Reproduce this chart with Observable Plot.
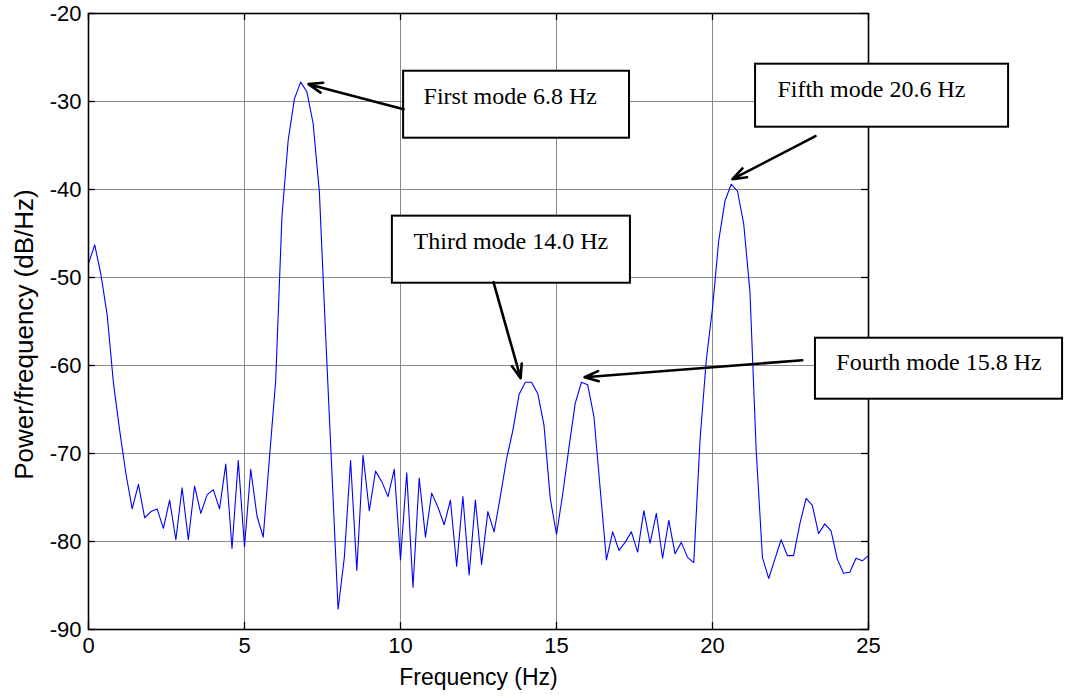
<!DOCTYPE html>
<html>
<head>
<meta charset="utf-8">
<script src="https://cdn.jsdelivr.net/npm/d3@7"></script>
<script src="https://cdn.jsdelivr.net/npm/@observablehq/plot@0.6"></script>
<style>
html, body { margin: 0; padding: 0; background: #fff; overflow: hidden; }
#chart svg { display: block; }
</style>
</head>
<body>
<div id="chart"></div>
<script>
// ---- Data ----
const frequencies = [
  0.0, 0.2, 0.4, 0.6, 0.8, 1.0, 1.2, 1.4, 1.6, 1.8,
  2.0, 2.2, 2.4, 2.6, 2.8, 3.0, 3.2, 3.4, 3.6, 3.8,
  4.0, 4.2, 4.4, 4.6, 4.8, 5.0, 5.2, 5.4, 5.6, 5.8,
  6.0, 6.2, 6.4, 6.6, 6.8, 7.0, 7.2, 7.4, 7.6, 7.8,
  8.0, 8.2, 8.4, 8.6, 8.8, 9.0, 9.2, 9.4, 9.6, 9.8,
  10.0, 10.2, 10.4, 10.6, 10.8, 11.0, 11.2, 11.4, 11.6, 11.8,
  12.0, 12.2, 12.4, 12.6, 12.8, 13.0, 13.2, 13.4, 13.6, 13.8,
  14.0, 14.2, 14.4, 14.6, 14.8, 15.0, 15.2, 15.4, 15.6, 15.8,
  16.0, 16.2, 16.4, 16.6, 16.8, 17.0, 17.2, 17.4, 17.6, 17.8,
  18.0, 18.2, 18.4, 18.6, 18.8, 19.0, 19.2, 19.4, 19.6, 19.8,
  20.0, 20.2, 20.4, 20.6, 20.8, 21.0, 21.2, 21.4, 21.6, 21.8,
  22.0, 22.2, 22.4, 22.6, 22.8, 23.0, 23.2, 23.4, 23.6, 23.8,
  24.0, 24.2, 24.4, 24.6, 24.8, 25.0
];
const psdDb = [
  -48.4, -46.3, -49.7, -54.3, -62.0, -67.4, -72.3, -76.3, -73.5, -77.3,
  -76.6, -76.3, -78.5, -75.3, -79.8, -73.9, -79.8, -73.7, -76.8, -74.7,
  -74.1, -76.3, -71.2, -80.8, -70.8, -80.6, -71.8, -77.1, -79.5, -70.5,
  -61.7, -43.1, -34.4, -29.7, -27.8, -28.9, -32.5, -40.3, -56.5, -72.0,
  -87.7, -81.8, -70.8, -83.3, -70.2, -76.5, -72.0, -73.2, -74.9, -71.8,
  -82.1, -72.2, -85.2, -72.8, -79.5, -74.5, -76.1, -78.1, -75.3, -82.8,
  -74.9, -83.8, -75.3, -82.6, -76.6, -78.9, -74.9, -70.6, -67.4, -63.3,
  -61.9, -61.9, -63.2, -66.8, -75.1, -79.2, -74.6, -69.3, -64.3, -61.9,
  -62.2, -65.8, -74.0, -82.1, -78.9, -81.0, -80.1, -78.9, -81.2, -76.5,
  -80.2, -76.8, -81.9, -77.6, -81.4, -80.1, -81.8, -82.4, -68.5, -59.4,
  -53.5, -45.8, -41.3, -39.4, -40.2, -43.9, -51.6, -69.6, -81.8, -84.2,
  -82.0, -79.8, -81.6, -81.6, -78.0, -75.1, -75.9, -79.1, -78.0, -78.8,
  -82.0, -83.6, -83.5, -81.9, -82.2, -81.6
];
const xTicks = [0, 5, 10, 15, 20, 25];
const yTicks = [-90, -80, -70, -60, -50, -40, -30, -20];
const xLabel = "Frequency (Hz)";
const yLabel = "Power/frequency (dB/Hz)";

// Annotations (data units)
const annoText   = ["First mode 6.8 Hz", "Fifth mode 20.6 Hz", "Third mode 14.0 Hz", "Fourth mode 15.8 Hz"];
const annoTextX  = [10.74, 22.08, 10.42, 23.97];
const annoTextY  = [-29.4, -28.6, -45.9, -59.6];
const boxX1      = [10.10, 21.38, 9.74, 23.30];
const boxX2      = [17.34, 29.49, 17.37, 31.22];
const boxY1      = [-26.56, -25.76, -43.03, -56.90];
const boxY2      = [-34.17, -32.92, -50.65, -63.83];
const arrowTailX = [10.10, 23.30, 12.98, 22.88];
const arrowTailY = [-30.88, -33.94, -50.53, -59.40];
const arrowTipX  = [7.05, 20.64, 13.85, 15.90];
const arrowTipY  = [-28.03, -38.83, -61.44, -61.33];

// ---- Build tables ----
const series = frequencies.map((f, i) => ({f, p: psdDb[i]}));
const annos = annoText.map((t, i) => ({
  t, tx: annoTextX[i], ty: annoTextY[i],
  x1: boxX1[i], x2: boxX2[i], y1: boxY1[i], y2: boxY2[i],
  ax1: arrowTailX[i], ay1: arrowTailY[i], ax2: arrowTipX[i], ay2: arrowTipY[i]
}));

const W = 1069, H = 698, mL = 88, mR = 201, mT = 13, mB = 69;
const frameH = H - mT - mB, frameW = W - mL - mR, tick = 7;

const sans = "'Liberation Sans', Arial, Helvetica, sans-serif";
const serif = "'Liberation Serif', 'Times New Roman', serif";
const fmt = d => String(d);

const chart = Plot.plot({
  width: W,
  height: H,
  marginLeft: mL,
  marginRight: mR,
  marginTop: mT,
  marginBottom: mB,
  x: {domain: [0, 25], label: null},
  y: {domain: [-90, -20], label: null},
  style: {fontFamily: sans, background: "white", color: "black", overflow: "visible"},
  marks: [
    Plot.gridX(xTicks, {stroke: "#8a8a8a", strokeOpacity: 1, strokeWidth: 1}),
    Plot.gridY(yTicks, {stroke: "#8a8a8a", strokeOpacity: 1, strokeWidth: 1}),
    Plot.line(series, {x: "f", y: "p", stroke: "#0000ff", strokeWidth: 1.1}),
    // inward ticks on all four sides
    Plot.ruleX(xTicks, {x: d => d, insetTop: frameH - tick, stroke: "black", strokeWidth: 1.3}),
    Plot.ruleX(xTicks, {x: d => d, insetBottom: frameH - tick, stroke: "black", strokeWidth: 1.3}),
    Plot.ruleY(yTicks, {y: d => d, insetRight: frameW - tick, stroke: "black", strokeWidth: 1.3}),
    Plot.ruleY(yTicks, {y: d => d, insetLeft: frameW - tick, stroke: "black", strokeWidth: 1.3}),
    Plot.frame({stroke: "black", strokeWidth: 1.6}),
    // tick labels
    Plot.axisX(xTicks, {anchor: "bottom", tickSize: 0, tickPadding: 8, tickFormat: fmt, label: null, fontSize: 22}),
    Plot.axisY(yTicks, {anchor: "left", tickSize: 0, tickPadding: 7, tickFormat: fmt, label: null, fontSize: 22}),
    // axis titles
    Plot.text([xLabel], {text: d => d, frameAnchor: "bottom", textAnchor: "middle", lineAnchor: "middle", dy: 48, fontSize: 23, fill: "black"}),
    Plot.text([yLabel], {text: d => d, frameAnchor: "left", textAnchor: "middle", lineAnchor: "middle", rotate: -90, dx: -64, dy: 13, fontSize: 26, fill: "black"}),
    // annotations
    Plot.rect(annos, {x1: "x1", x2: "x2", y1: "y1", y2: "y2", fill: "white", stroke: "black", strokeWidth: 2}),
    Plot.text(annos, {x: "tx", y: "ty", text: "t", textAnchor: "start", fontFamily: serif, fontSize: 24, fill: "black"}),
    Plot.arrow(annos, {x1: "ax1", y1: "ay1", x2: "ax2", y2: "ay2", stroke: "black", strokeWidth: 2.6, headLength: 8.5, headAngle: 40})
  ]
});
document.getElementById("chart").appendChild(chart);
</script>
</body>
</html>
